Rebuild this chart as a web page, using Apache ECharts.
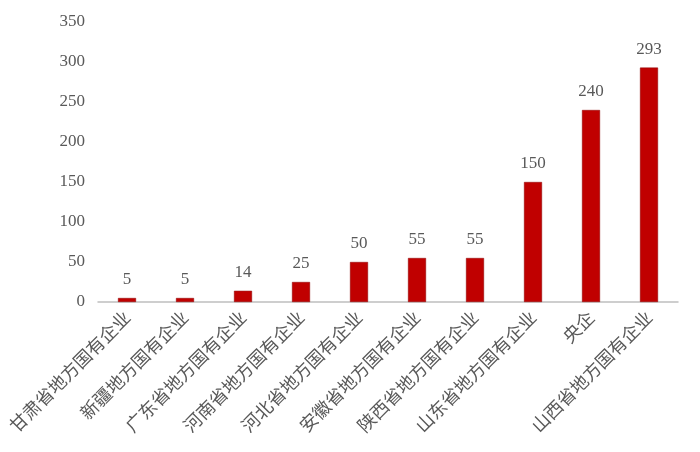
<!DOCTYPE html>
<html>
<head>
<meta charset="utf-8">
<script src="https://cdn.jsdelivr.net/npm/echarts@6/dist/echarts.min.js"></script>
<style>
    html, body { margin: 0; padding: 0; background: #fff; }
    #chart { width: 700px; height: 452px; }
</style>
</head>
<body>
<div id="chart"></div>
<script>
    // 类别与数值
    var categories = ['甘肃省地方国有企业', '新疆地方国有企业', '广东省地方国有企业', '河南省地方国有企业',
        '河北省地方国有企业', '安徽省地方国有企业', '陕西省地方国有企业', '山东省地方国有企业',
        '央企', '山西省地方国有企业'];
    var values = [5, 5, 14, 25, 50, 55, 55, 150, 240, 293];

    var chart = echarts.init(document.getElementById('chart'));
    chart.setOption({
        animation: false,
        grid: {
            left: 98,
            right: 22,
            top: 22,
            bottom: 150
        },
        xAxis: {
            type: 'category',
            data: categories,
            axisLine: {lineStyle: {color: '#BFBFBF', width: 1.5}},
            axisTick: {show: false},
            axisLabel: {
                rotate: 45,
                interval: 0,
                margin: 12,
                color: '#595959',
                fontSize: 18,
                fontFamily: 'Noto Sans CJK SC'
            }
        },
        yAxis: {
            type: 'value',
            min: 0,
            max: 350,
            interval: 50,
            splitLine: {show: false},
            axisLine: {show: false},
            axisTick: {show: false},
            axisLabel: {
                color: '#595959',
                fontSize: 17,
                margin: 13,
                fontFamily: 'Liberation Serif'
            }
        },
        series: [{
            type: 'bar',
            data: values,
            barWidth: 18,
            itemStyle: {
                color: '#C00000',
                borderColor: '#8B0000',
                borderWidth: 0.5
            },
            label: {
                show: true,
                position: 'top',
                distance: 10,
                color: '#595959',
                fontSize: 17,
                fontFamily: 'Liberation Serif'
            }
        }]
    });
</script>
</body>
</html>
